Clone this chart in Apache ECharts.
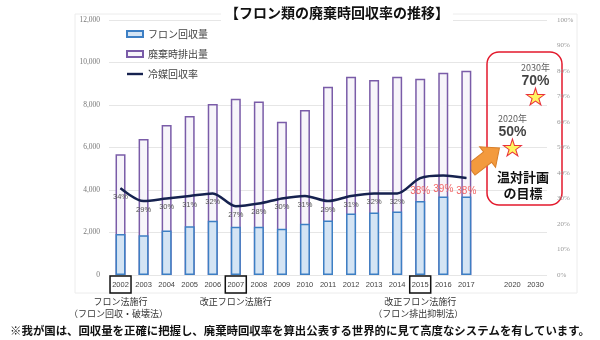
<!DOCTYPE html>
<html>
<head>
<meta charset="utf-8">
<script src="https://cdn.jsdelivr.net/npm/echarts@6/dist/echarts.min.js"></script>
<style>
html,body{margin:0;padding:0;background:#fff;}
#chart{width:600px;height:340px;}
</style>
</head>
<body>
<div id="chart"></div>
<script>
// Fiscal years on the category axis (blank slot keeps the gap before the target years)
const years = ['2002','2003','2004','2005','2006','2007','2008','2009','2010','2011','2012','2013','2014','2015','2016','2017','','2020','2030'];
// Recovered fluorocarbons (t)
const recovered = [1930,1870,2100,2300,2550,2270,2270,2180,2410,2560,2890,2940,2990,3480,3700,3700];
// Fluorocarbons held in equipment at disposal (t)
const disposed = [5680,6400,7060,7480,8050,8300,8170,7210,7770,8860,9330,9180,9330,9240,9520,9610];
// Recovery rate at disposal (%)
const rate = [34,29,30,31,32,27,28,30,31,29,31,32,32,38,39,38];
// Government plan targets (%)
const targets = [{year:'2020', value:50}, {year:'2030', value:70}];
// Left / right axis ranges
const leftMax = 12000, leftStep = 2000;
const rightMax = 100, rightStep = 10;
// Years with law changes, and their captions
const lawYears = [
  {year:'2002', lines:['フロン法施行','（フロン回収・破壊法）']},
  {year:'2007', lines:['改正フロン法施行']},
  {year:'2015', lines:['改正フロン法施行','（フロン排出抑制法）']}
];

const JP = '"Noto Sans CJK JP", "Noto Sans", sans-serif';
const STAR = 'path://M50,0 L61,35 L98,35 L68,57 L79,91 L50,70 L21,91 L32,57 L2,35 L39,35 Z';

const chart = echarts.init(document.getElementById('chart'), null, {renderer:'canvas'});

const rateData = rate.map((v, i) => {
  const highlight = i >= 13;
  return {
    value: v,
    label: highlight
      ? {color:'#f26767', fontSize:10, distance:8}
      : {color:'#555', fontSize:7.5, distance:4}
  };
});

const targetData = years.map(y => {
  const t = targets.find(d => d.year === y);
  return t ? {value: t.value, name: y} : '-';
});

const option = {
  animation: false,
  textStyle: {fontFamily: JP},
  grid: {left:109, right:53, top:20, bottom:65},
  legend: {
    orient: 'vertical',
    left: 121, top: 24,
    itemWidth: 16, itemHeight: 6, itemGap: 10,
    textStyle: {fontSize:10, color:'#444', fontFamily: JP},
    data: [
      {name:'フロン回収量', icon:'rect'},
      {name:'廃棄時排出量', icon:'rect'},
      {name:'冷媒回収率', icon:'path://M0,0 L20,0 L20,3 L0,3 Z', itemStyle:{color:'#16224f'}}
    ]
  },
  xAxis: {
    type: 'category',
    data: years,
    axisLine: {show:false},
    axisTick: {show:false},
    axisLabel: {fontSize:7.5, color:'#444', margin:6, interval:0, fontFamily:'"Liberation Sans", sans-serif'}
  },
  yAxis: [
    {
      type:'value', min:0, max:leftMax, interval:leftStep,
      axisLine:{show:false}, axisTick:{show:false},
      splitLine:{lineStyle:{color:'#e6e6e6'}},
      axisLabel:{fontSize:7.5, color:'#777', margin:9,
        formatter: v => v.toLocaleString('en-US'),
        fontFamily:'"Liberation Serif", serif'}
    },
    {
      type:'value', min:0, max:rightMax, interval:rightStep, position:'right',
      axisLine:{show:false}, axisTick:{show:false},
      splitLine:{show:false},
      axisLabel:{fontSize:7, color:'#999', margin:10, formatter:'{value}%',
        fontFamily:'"Liberation Serif", serif'}
    }
  ],
  series: [
    {
      name:'廃棄時排出量', type:'bar', data: disposed, barWidth:10, barGap:'-100%',
      itemStyle:{color:'#f7f5fa', borderColor:'#7a5ca8', borderWidth:1.5}
    },
    {
      name:'フロン回収量', type:'bar', data: recovered, barWidth:10, barGap:'-100%',
      itemStyle:{color:'#d4e4f4', borderColor:'#3d7fc4', borderWidth:1.5}
    },
    {
      name:'冷媒回収率', type:'line', yAxisIndex:1, data: rateData,
      smooth:0.3, symbol:'circle', symbolSize:1,
      lineStyle:{color:'#16224f', width:2.5},
      itemStyle:{color:'#16224f'},
      label:{show:true, position:'bottom', formatter:'{c}%', fontFamily:'"Liberation Sans", sans-serif'}
    },
    {
      name:'目標', type:'scatter', yAxisIndex:1, data: targetData,
      symbol: STAR, symbolSize:[18,17],
      itemStyle:{color:'#fff23a', borderColor:'#e3001b', borderWidth:1},
      label:{
        show:true, position:'top', distance:-1, align:'center',
        formatter: p => '{y|' + p.name + '年}\n{v|' + p.value + '%}',
        rich:{
          y:{fontSize:9, color:'#333', lineHeight:13, fontFamily: JP},
          v:{fontSize:14, fontWeight:'bold', color:'#111', lineHeight:14, fontFamily:'"Liberation Sans", sans-serif'}
        }
      }
    }
  ]
};
chart.setOption(option);

// Decorations: frame, title, target panel, arrow, law-year boxes, captions
const g = [];
g.push({type:'rect', shape:{x:75, y:14, width:502, height:279}, style:{fill:null, stroke:'#ececec', lineWidth:1}, z:-1});
g.push({type:'text', x:337, y:13, style:{text:'【フロン類の廃棄時回収率の推移】', font:'bold 14px '+JP, fill:'#111',
  textAlign:'center', textVerticalAlign:'middle', backgroundColor:'#fff', padding:[2,4]}});
g.push({type:'rect', shape:{x:487, y:52, width:75, height:153, r:12}, style:{fill:null, stroke:'#e3192c', lineWidth:1.5}});
g.push({type:'text', x:523, y:177, style:{text:'温対計画', font:'bold 13px '+JP, fill:'#111', textAlign:'center', textVerticalAlign:'middle'}});
g.push({type:'text', x:523, y:193, style:{text:'の目標', font:'bold 13px '+JP, fill:'#111', textAlign:'center', textVerticalAlign:'middle'}});
g.push({type:'polygon', x:471, y:170, rotation:0.66,
  shape:{points:[[0,-6.5],[21,-6.5],[21,-13],[36,0],[21,13],[21,6.5],[0,6.5]]},
  style:{fill:'#f39a3d', stroke:'#d97f2a', lineWidth:1}});

lawYears.forEach(d => {
  const x = chart.convertToPixel({xAxisIndex:0}, d.year);
  g.push({type:'rect', shape:{x:x-10.5, y:276, width:21, height:17}, style:{fill:null, stroke:'#111', lineWidth:1.5}});
  d.lines.forEach((t, i) => {
    g.push({type:'text', x:x + (t.startsWith('（') ? -2 : 0), y:302 + i*11.5,
      style:{text:t, font:'9px '+JP, fill:'#333', textAlign:'center', textVerticalAlign:'middle'}});
  });
});
g.push({type:'text', x:300, y:331, style:{text:'※我が国は、回収量を正確に把握し、廃棄時回収率を算出公表する世界的に見て高度なシステムを有しています。',
  font:'bold 11.4px '+JP, fill:'#111', textAlign:'center', textVerticalAlign:'middle'}});

chart.setOption({graphic: g});
</script>
</body>
</html>
